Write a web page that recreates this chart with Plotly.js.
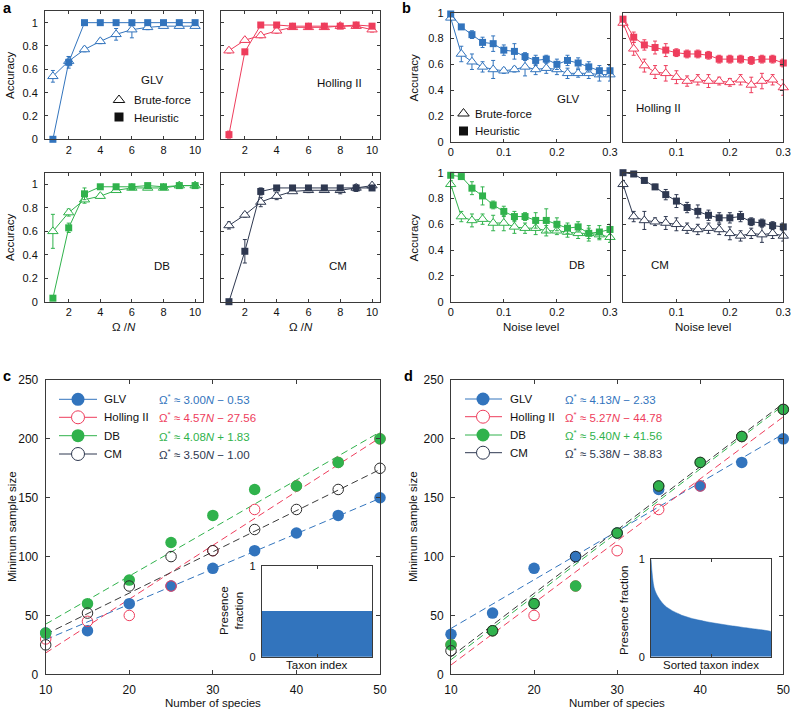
<!DOCTYPE html>
<html><head><meta charset="utf-8">
<script src="https://cdn.plot.ly/plotly-3.0.1.min.js"></script>
<style>body{margin:0;background:#fff}#chart{width:792px;height:711px}</style>
</head><body><div id="chart"></div>
<script>
// ---------------- data ----------------
const modelNames = ['GLV', 'Holling II', 'DB', 'CM'];
const modelColors = ['#3274bd', '#ee3d5c', '#30b24c', '#2e3850'];

// panel a : accuracy vs Omega/N
const omegaRatio = [1, 2, 3, 4, 5, 6, 7, 8, 9, 10];
const aGLV_bf = [0.54, 0.67, 0.77, 0.84, 0.90, 0.94, 0.96, 0.97, 0.97, 0.97];
const aGLV_bfErr = [0.05, 0.04, 0.02, 0.02, 0.05, 0.07, 0.02, 0.01, 0.01, 0.01];
const aGLV_h = [0.00, 0.66, 1.00, 1.00, 1.00, 1.00, 1.00, 1.00, 1.00, 1.00];
const aGLV_hErr = [0, 0.05, 0, 0, 0, 0, 0, 0, 0, 0];
const aHol_bf = [0.76, 0.85, 0.89, 0.93, 0.96, 0.96, 0.96, 0.97, 0.97, 0.94];
const aHol_bfErr = [0.02, 0.02, 0.02, 0.02, 0.01, 0.01, 0.01, 0.01, 0.01, 0.02];
const aHol_h = [0.04, 0.75, 0.98, 0.98, 0.97, 0.97, 0.97, 0.97, 0.98, 0.97];
const aHol_hErr = [0.03, 0.02, 0, 0, 0, 0, 0, 0, 0, 0];
const aDB_bf = [0.60, 0.76, 0.87, 0.90, 0.95, 0.97, 0.97, 0.97, 0.99, 0.99];
const aDB_bfErr = [0.145, 0.03, 0.03, 0.02, 0.01, 0.01, 0.01, 0.01, 0.01, 0.01];
const aDB_h = [0.03, 0.63, 0.92, 0.98, 0.98, 0.98, 0.99, 0.98, 0.99, 0.99];
const aDB_hErr = [0, 0.04, 0.05, 0, 0, 0, 0, 0, 0, 0];
const aCM_bf = [0.65, 0.74, 0.85, 0.90, 0.94, 0.95, 0.95, 0.95, 0.97, 0.99];
const aCM_bfErr = [0.03, 0.02, 0.04, 0.03, 0.01, 0.02, 0.01, 0.03, 0.03, 0.01];
const aCM_h = [0.00, 0.43, 0.94, 0.97, 0.97, 0.97, 0.97, 0.97, 0.97, 0.97];
const aCM_hErr = [0, 0.10, 0.03, 0, 0, 0, 0, 0, 0, 0];

// panel b : accuracy vs noise level
const noiseLevel = [0, 0.02, 0.04, 0.06, 0.08, 0.10, 0.12, 0.14, 0.16, 0.18, 0.20, 0.22, 0.24, 0.26, 0.28, 0.30];
const bGLV_bf = [0.96, 0.68, 0.62, 0.58, 0.56, 0.55, 0.56, 0.58, 0.56, 0.57, 0.56, 0.53, 0.53, 0.53, 0.52, 0.52];
const bGLV_bfErr = [0.01, 0.06, 0.06, 0.04, 0.07, 0.02, 0.02, 0.07, 0.04, 0.04, 0.04, 0.04, 0.03, 0.04, 0.05, 0.05];
const bGLV_h = [0.99, 0.89, 0.83, 0.77, 0.76, 0.71, 0.70, 0.66, 0.63, 0.64, 0.60, 0.63, 0.61, 0.58, 0.55, 0.55];
const bGLV_hErr = [0.01, 0.01, 0.03, 0.04, 0.06, 0.04, 0.06, 0.03, 0.04, 0.03, 0.04, 0.04, 0.04, 0.04, 0.04, 0.04];
const bHol_bf = [0.92, 0.72, 0.59, 0.54, 0.53, 0.50, 0.47, 0.48, 0.47, 0.47, 0.46, 0.48, 0.44, 0.47, 0.48, 0.42];
const bHol_bfErr = [0.03, 0.05, 0.05, 0.05, 0.06, 0.05, 0.04, 0.04, 0.05, 0.03, 0.03, 0.04, 0.06, 0.06, 0.04, 0.06];
const bHol_h = [0.95, 0.81, 0.75, 0.73, 0.71, 0.69, 0.68, 0.68, 0.67, 0.64, 0.64, 0.64, 0.63, 0.64, 0.64, 0.61];
const bHol_hErr = [0.02, 0.04, 0.04, 0.05, 0.05, 0.03, 0.03, 0.03, 0.03, 0.03, 0.03, 0.03, 0.03, 0.03, 0.03, 0.03];
const bDB_bf = [0.91, 0.66, 0.63, 0.64, 0.61, 0.61, 0.58, 0.57, 0.57, 0.55, 0.55, 0.54, 0.53, 0.53, 0.52, 0.50];
const bDB_bfErr = [0.03, 0.04, 0.05, 0.04, 0.06, 0.06, 0.05, 0.04, 0.05, 0.04, 0.03, 0.04, 0.04, 0.04, 0.04, 0.04];
const bDB_h = [0.98, 0.97, 0.88, 0.82, 0.75, 0.70, 0.66, 0.66, 0.63, 0.63, 0.60, 0.57, 0.58, 0.53, 0.54, 0.56];
const bDB_hErr = [0.01, 0.01, 0.05, 0.07, 0.03, 0.04, 0.04, 0.03, 0.06, 0.09, 0.05, 0.04, 0.04, 0.06, 0.05, 0.04];
const bCM_bf = [0.91, 0.66, 0.63, 0.62, 0.61, 0.60, 0.57, 0.56, 0.57, 0.56, 0.53, 0.51, 0.53, 0.52, 0.53, 0.51];
const bCM_bfErr = [0.03, 0.04, 0.07, 0.03, 0.05, 0.05, 0.04, 0.04, 0.04, 0.04, 0.05, 0.04, 0.04, 0.06, 0.04, 0.04];
const bCM_h = [1.00, 0.99, 0.94, 0.89, 0.83, 0.78, 0.73, 0.70, 0.67, 0.65, 0.65, 0.66, 0.62, 0.61, 0.59, 0.58];
const bCM_hErr = [0.01, 0.01, 0.02, 0.02, 0.04, 0.05, 0.04, 0.05, 0.04, 0.04, 0.04, 0.04, 0.03, 0.03, 0.03, 0.03];

// panels c and d : minimum sample size vs number of species
const speciesN = [10, 15, 20, 25, 30, 35, 40, 45, 50];
const cGLV = [35, 37, 60, 75, 90, 105, 120, 135, 150];
const cHol = [30, 45, 50, 75, 105, 140, 160, 180, 200];
const cDB = [35, 60, 80, 112, 135, 157, 160, 180, 200];
const cCM = [25, 52, 75, 100, 105, 123, 140, 157, 175];
const cFitSlope = [3.00, 4.57, 4.08, 3.50];
const cFitIntercept = [-0.53, -27.56, 1.83, -1.00];
const cFitLabels = ['Ω<sup>*</sup> ≈ 3.00<i>N</i> − 0.53', 'Ω<sup>*</sup> ≈ 4.57<i>N</i> − 27.56', 'Ω<sup>*</sup> ≈ 4.08<i>N</i> + 1.83', 'Ω<sup>*</sup> ≈ 3.50<i>N</i> − 1.00'];

const dGLV = [34, 52, 90, 100, 120, 157, 160, 180, 200];
const dHol = [25, 37, 50, 75, 105, 140, 160, 202, 225];
const dDB = [25, 37, 60, 75, 120, 160, 180, 202, 225];
const dCM = [20, 37, 60, 100, 120, 160, 180, 202, 225];
const dFitSlope = [4.13, 5.27, 5.40, 5.38];
const dFitIntercept = [-2.33, -44.78, -41.56, -38.83];
const dFitLabels = ['Ω<sup>*</sup> ≈ 4.13<i>N</i> − 2.33', 'Ω<sup>*</sup> ≈ 5.27<i>N</i> − 44.78', 'Ω<sup>*</sup> ≈ 5.40<i>N</i> + 41.56', 'Ω<sup>*</sup> ≈ 5.38<i>N</i> − 38.83'];

// insets : presence fraction per taxon
const presenceC = [0.5, 0.5, 0.5, 0.5, 0.5, 0.5, 0.5, 0.5, 0.5, 0.5, 0.5, 0.5, 0.5, 0.5, 0.5, 0.5, 0.5, 0.5, 0.5, 0.5];
const presenceD = [1.00, 0.71, 0.63, 0.58, 0.54, 0.51, 0.49, 0.47, 0.455, 0.44, 0.425, 0.415, 0.405, 0.395, 0.387, 0.38, 0.373, 0.366, 0.36, 0.354,
                   0.348, 0.343, 0.338, 0.333, 0.328, 0.323, 0.318, 0.314, 0.31, 0.305, 0.30, 0.296, 0.292, 0.288, 0.284, 0.28, 0.276, 0.271, 0.266, 0.26];

// ---------------- layout helpers ----------------
const FONT = 'Liberation Sans, Arial, Helvetica, sans-serif';
const W = 792, H = 711;
const fx = p => p / W, fy = p => 1 - p / H;
const INK = '#3a3a3a';

// pixel boxes [left, right, top, bottom]
const boxes = [
  [45, 203, 11, 139.3], [221, 380, 11, 139.3], [45, 203, 172.7, 301.7], [221, 380, 172.7, 301.7],
  [450.7, 610, 12.7, 141.7], [623, 783.3, 12.7, 141.7], [450.7, 610, 172.7, 301.7], [623, 783.3, 172.7, 301.7],
  [45.7, 380, 380, 674.3], [451, 783.3, 380, 674.3],
  [261.7, 372.3, 566, 656.7], [651, 771, 559.3, 656.7],
  [0, 792, 0, 711]
];

const layout = {
  width: W, height: H, margin: {l: 0, r: 0, t: 0, b: 0},
  paper_bgcolor: '#ffffff', plot_bgcolor: 'rgba(0,0,0,0)',
  showlegend: false, hovermode: false, bargap: 0,
  font: {family: FONT, size: 11, color: '#111'},
  annotations: []
};

function baseAxis(extra) {
  return Object.assign({
    showline: true, linecolor: INK, linewidth: 1, mirror: 'ticks',
    ticks: 'inside', ticklen: 3, tickcolor: INK, tickwidth: 1,
    showgrid: false, zeroline: false, fixedrange: true,
    tickfont: {family: FONT, size: 11, color: '#111'}
  }, extra || {});
}
const axName = (k, i) => k + 'axis' + (i === 1 ? '' : i);
const trRef = (k, i) => k + (i === 1 ? '' : i);

boxes.forEach((b, idx) => {
  const i = idx + 1;
  let xa, ya;
  if (i <= 4) {
    xa = baseAxis({range: [0.5, 10.5], tickvals: [2, 4, 6, 8, 10]});
    ya = baseAxis({range: [0, 1.1], tickvals: [0, 0.2, 0.4, 0.6, 0.8, 1], showticklabels: (i === 1 || i === 3), ticklabelstandoff: 4});
  } else if (i <= 8) {
    const right = (i === 6 || i === 8);
    xa = baseAxis({range: [0, 0.3], tickvals: right ? [0.1, 0.2, 0.3] : [0, 0.1, 0.2, 0.3]});
    ya = baseAxis({range: [0, 1], tickvals: [0, 0.2, 0.4, 0.6, 0.8, 1], showticklabels: !right, ticklabelstandoff: 4});
  } else if (i <= 10) {
    xa = baseAxis({range: [10, 50], tickvals: [10, 20, 30, 40, 50], ticklen: 4, ticklabelstandoff: 4, tickfont: {family: FONT, size: 12, color: '#111'}});
    ya = baseAxis({range: [0, 250], tickvals: [0, 50, 100, 150, 200, 250], ticklen: 4, ticklabelstandoff: 4, tickfont: {family: FONT, size: 12, color: '#111'}});
  } else if (i === 11) {
    xa = baseAxis({range: [0.5, presenceC.length + 0.5], tickvals: [(presenceC.length + 1) / 2], showticklabels: false});
    ya = baseAxis({range: [0, 1], tickvals: [0, 1], ticklabelstandoff: 3});
  } else if (i === 12) {
    xa = baseAxis({range: [1, presenceD.length], tickvals: [(presenceD.length + 1) / 2], showticklabels: false});
    ya = baseAxis({range: [0, 1], tickvals: [0, 1], ticklabelstandoff: 3});
  } else {
    xa = {visible: false, range: [0, 792], fixedrange: true};
    ya = {visible: false, range: [711, 0], fixedrange: true};
  }
  xa.domain = [fx(b[0]), fx(b[1])];
  ya.domain = [fy(b[3]), fy(b[2])];
  xa.anchor = trRef('y', i);
  ya.anchor = trRef('x', i);
  layout[axName('x', i)] = xa;
  layout[axName('y', i)] = ya;
});

// ---------------- traces ----------------
const traces = [];
function addAccuracy(i, xs, bf, bfErr, h, hErr, color) {
  traces.push({
    type: 'scatter', mode: 'lines+markers', x: xs, y: bf, xaxis: trRef('x', i), yaxis: trRef('y', i),
    cliponaxis: false, line: {color: color, width: 1},
    marker: {symbol: 'triangle-up', size: 9, color: '#ffffff', line: {color: color, width: 1}},
    error_y: {type: 'data', array: bfErr, visible: true, color: color, thickness: 1, width: 2}
  });
  traces.push({
    type: 'scatter', mode: 'lines+markers', x: xs, y: h, xaxis: trRef('x', i), yaxis: trRef('y', i),
    cliponaxis: false, line: {color: color, width: 1},
    marker: {symbol: 'square', size: 7, color: color, line: {width: 0}},
    error_y: {type: 'data', array: hErr, visible: true, color: color, thickness: 1, width: 2}
  });
}
addAccuracy(1, omegaRatio, aGLV_bf, aGLV_bfErr, aGLV_h, aGLV_hErr, modelColors[0]);
addAccuracy(2, omegaRatio, aHol_bf, aHol_bfErr, aHol_h, aHol_hErr, modelColors[1]);
addAccuracy(3, omegaRatio, aDB_bf, aDB_bfErr, aDB_h, aDB_hErr, modelColors[2]);
addAccuracy(4, omegaRatio, aCM_bf, aCM_bfErr, aCM_h, aCM_hErr, modelColors[3]);
addAccuracy(5, noiseLevel, bGLV_bf, bGLV_bfErr, bGLV_h, bGLV_hErr, modelColors[0]);
addAccuracy(6, noiseLevel, bHol_bf, bHol_bfErr, bHol_h, bHol_hErr, modelColors[1]);
addAccuracy(7, noiseLevel, bDB_bf, bDB_bfErr, bDB_h, bDB_hErr, modelColors[2]);
addAccuracy(8, noiseLevel, bCM_bf, bCM_bfErr, bCM_h, bCM_hErr, modelColors[3]);

const filled = [true, false, true, false];
function addSample(i, series, slopes, intercepts) {
  const xEnds = [speciesN[0], speciesN[speciesN.length - 1]];
  series.forEach((s, m) => {
    traces.push({
      type: 'scatter', mode: 'lines', x: xEnds, y: xEnds.map(n => slopes[m] * n + intercepts[m]),
      xaxis: trRef('x', i), yaxis: trRef('y', i),
      line: {color: m === 3 ? '#3a3a3a' : modelColors[m], width: 1, dash: '7px,4px'}
    });
  });
  series.forEach((s, m) => {
    traces.push({
      type: 'scatter', mode: 'markers', x: speciesN, y: s, xaxis: trRef('x', i), yaxis: trRef('y', i),
      cliponaxis: false,
      marker: filled[m] ? {symbol: 'circle', size: 11.5, color: modelColors[m], line: {width: 0}}
                        : {symbol: 'circle', size: 10.5, color: 'rgba(0,0,0,0)', line: {color: m === 3 ? '#2a2a2a' : modelColors[m], width: 1}}
    });
  });
}
addSample(9, [cGLV, cHol, cDB, cCM], cFitSlope, cFitIntercept);
addSample(10, [dGLV, dHol, dDB, dCM], dFitSlope, dFitIntercept);

// insets
traces.push({type: 'bar', x: presenceC.map((v, k) => k + 1), y: presenceC, xaxis: 'x11', yaxis: 'y11',
  marker: {color: modelColors[0], line: {width: 0}}});
traces.push({type: 'scatter', mode: 'lines', x: presenceD.map((v, k) => k + 1), y: presenceD, xaxis: 'x12', yaxis: 'y12',
  fill: 'tozeroy', fillcolor: modelColors[0], line: {color: modelColors[0], width: 0.5, shape: 'spline'}});

// legend glyphs on the full-page overlay (pixel coordinates)
function glyph(x, y, marker, mode, lineColor) {
  traces.push({type: 'scatter', mode: mode || 'markers', x: x, y: y, xaxis: 'x13', yaxis: 'y13', cliponaxis: false,
    marker: marker, line: {color: lineColor || '#000', width: 1}});
}
glyph([119], [100], {symbol: 'triangle-up', size: 10, color: '#fff', line: {color: '#111', width: 1}});
glyph([119], [117], {symbol: 'square', size: 9, color: '#111'});
glyph([463.5], [113.5], {symbol: 'triangle-up', size: 10, color: '#fff', line: {color: '#111', width: 1}});
glyph([463.5], [131], {symbol: 'square', size: 9, color: '#111'});

const cRows = [399.3, 417.3, 435.7, 454];
const dRows = [399, 416.7, 435, 452.7];
function legendBlock(rows, x0, x1, xm, xt, xe, labels) {
  rows.forEach((ry, m) => {
    glyph([x0, x1], [ry, ry], {size: 1}, 'lines', modelColors[m]);
    glyph([xm], [ry], filled[m] ? {symbol: 'circle', size: 13, color: modelColors[m], line: {width: 0}}
                               : {symbol: 'circle', size: 13, color: '#fff', line: {color: modelColors[m], width: 1}});
    layout.annotations.push({text: modelNames[m], x: fx(xt), y: fy(ry), xref: 'paper', yref: 'paper', xanchor: 'left', yanchor: 'middle',
      showarrow: false, font: {family: FONT, size: 11.5, color: '#111'}});
    layout.annotations.push({text: labels[m], x: fx(xe), y: fy(ry), xref: 'paper', yref: 'paper', xanchor: 'left', yanchor: 'middle',
      showarrow: false, font: {family: FONT, size: 11.5, color: modelColors[m]}});
  });
}
legendBlock(cRows, 59, 97, 78, 102.5, 157, cFitLabels);
legendBlock(dRows, 465, 502, 483, 507.5, 563, dFitLabels);

// ---------------- text ----------------
function ann(text, x, y, opts) {
  layout.annotations.push(Object.assign({text: text, x: fx(x), y: fy(y), xref: 'paper', yref: 'paper',
    xanchor: 'center', yanchor: 'middle', showarrow: false, font: {family: FONT, size: 11.5, color: '#111'}}, opts || {}));
}
// panel letters
const bold = {family: FONT, size: 14.5, color: '#000'};
ann('<b>a</b>', 7.5, 8, {font: bold, borderpad: 0});
ann('<b>b</b>', 407, 8, {font: bold, borderpad: 0});
ann('<b>c</b>', 6.5, 376, {font: bold, borderpad: 0});
ann('<b>d</b>', 408.5, 375.5, {font: bold, borderpad: 0});
// subplot labels
ann('GLV', 151.5, 80);
ann('Holling II', 339, 82.7);
ann('DB', 161.7, 266);
ann('CM', 337.7, 265.7);
ann('GLV', 568, 99);
ann('Holling II', 658, 108);
ann('DB', 576.7, 265);
ann('CM', 660, 265);
// small legends a and b
ann('Brute-force', 131.5, 100, {xanchor: 'left'});
ann('Heuristic', 131.5, 117.5, {xanchor: 'left'});
ann('Brute-force', 473, 113.5, {xanchor: 'left'});
ann('Heuristic', 473, 131, {xanchor: 'left'});
// axis titles
const rot = {textangle: -90};
ann('Accuracy', 10, 75, rot);
ann('Accuracy', 10, 237, rot);
ann('Accuracy', 413.5, 77, rot);
ann('Accuracy', 413.5, 237, rot);
ann('Ω /<i>N</i>', 124, 326.5);
ann('Ω /<i>N</i>', 300.5, 326.5);
ann('Noise level', 530.5, 326.5);
ann('Noise level', 703, 326.5);
ann('Minimum sample size', 12, 527, rot);
ann('Minimum sample size', 413, 527, rot);
ann('Number of species', 213, 703);
ann('Number of species', 617, 703);
// inset titles
ann('Presence<br>fraction', 231, 611, {textangle: -90});
ann('Taxon index', 317, 665);
ann('Presence fraction', 624, 610, {textangle: -90});
ann('Sorted taxon index', 711, 665);

Plotly.newPlot('chart', traces, layout, {staticPlot: true, displayModeBar: false});
</script>
</body></html>
